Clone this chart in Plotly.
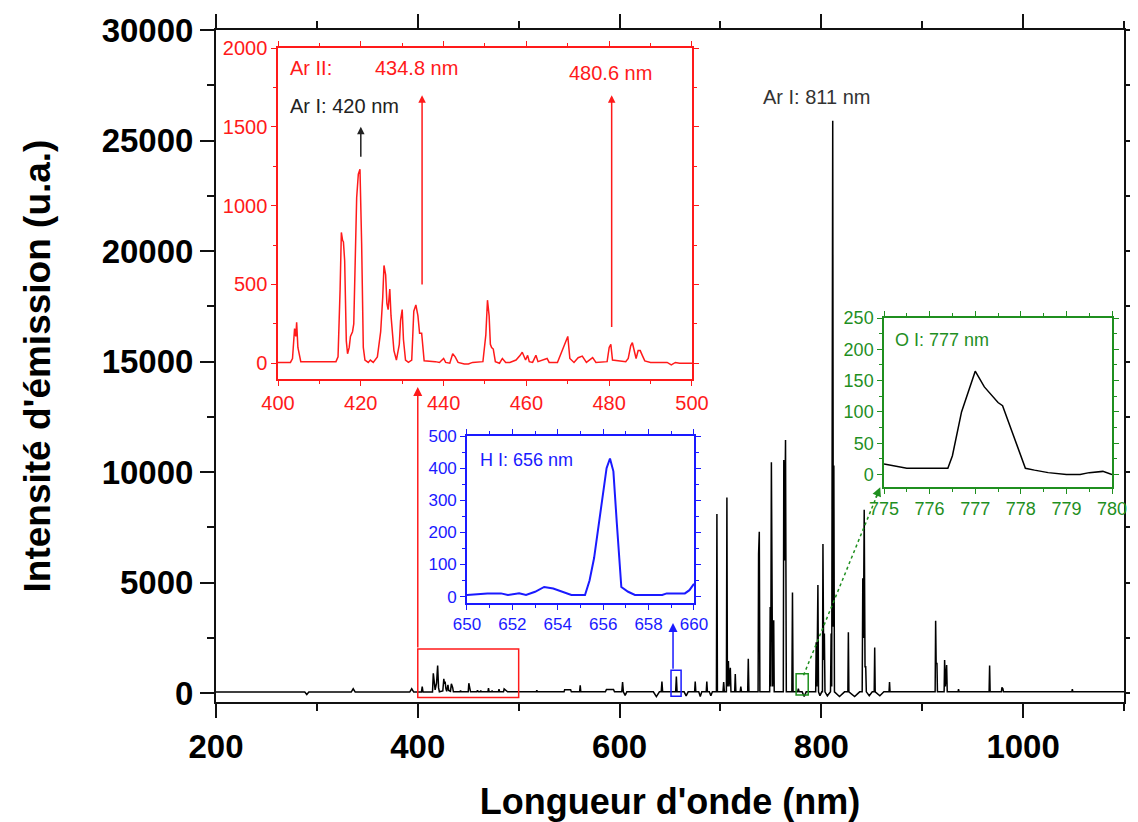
import plotly.graph_objects as go

# ---------------- Main spectrum (nm, intensity a.u.) ----------------
main_wl = [200, 288, 290, 292, 334, 336, 338, 392, 394, 396,
           403.6, 404.4, 405.2,
           414.6, 415.4, 416.4, 417.2, 418.6, 419.7, 420.6, 421.4,
           424.8, 425.8, 426.5, 427.1, 427.9, 428.7, 429.9, 430.7, 432.4, 433.3, 434.6, 435.3,
           441.8, 442.4, 443.0,
           450.0, 450.6, 451.3, 452.3,
           458.5, 459.2, 460.0, 462.0, 462.4, 463.0,
           469.5, 470.1, 470.7,
           473.0, 473.6, 474.3,
           479.9, 480.5, 481.1,
           485.0, 485.6, 487.5, 489.0,
           517.4, 518.0, 518.6,
           545.0, 545.6, 548.0, 551.5, 552.2,
           560.4, 561.0, 561.6,
           586.0, 587.0, 594.0, 595.0,
           602.2, 603.0, 603.8, 605.5, 607.2,
           633.5, 636.5, 639.5,
           641.3, 642.0, 642.7,
           655.6, 656.3, 657.0,
           664.0, 666.0, 668.0,
           674.4, 675.0, 675.6,
           678.5, 680.0, 681.5,
           685.9, 686.5, 687.1,
           689.0, 690.5, 692.0,
           696.0, 696.5, 697.0,
           702.5, 703.2, 703.9,
           705.9, 706.4, 706.9, 707.9, 708.5, 709.8, 710.4,
           714.1, 714.7, 715.3,
           719.5, 720.2, 720.9,
           727.0, 727.6, 728.2,
           737.3, 737.8, 738.5, 739.1,
           748.8, 749.3, 749.8, 750.5, 751.2, 751.7, 752.8, 753.3,
           762.3, 762.8, 763.5, 764.5, 765.3,
           770.8, 771.4, 772.0,
           776.5, 777.2, 778.0,
           781.0, 783.0, 785.0,
           794.4, 794.9, 795.6, 796.6, 797.2,
           798.6, 800.4, 801.1, 801.6, 802.3, 803.0, 803.6,
           806.0, 808.4, 809.1, 809.7, 810.3, 811.3, 811.9, 812.4, 813.0,
           818.0, 823.0,
           826.3, 826.8, 827.3,
           833.0, 838.0,
           840.5, 841.1, 841.7, 842.5, 843.3, 844.0, 844.6,
           847.5, 850.5,
           852.4, 852.9, 853.4,
           858.0, 862.0,
           867.1, 867.6, 868.1,
           912.8, 913.3, 913.8, 914.6, 915.1,
           921.7, 922.2, 922.9, 924.2, 924.8,
           935.5, 936.0, 936.5,
           966.3, 966.8, 967.3,
           978.5, 979.0, 980.0, 980.5,
           1048.3, 1048.8, 1049.3,
           1100]
main_int = [50, 50, -60, 50, 50, 200, 50, 50, 200, 50,
            50, 300, 50,
            50, 900, 250, 150, 450, 1250, 250, 60,
            100, 650, 420, 520, 200, 80, 380, 120, 80, 420, 250, 60,
            60, 120, 60,
            60, 450, 200, 60,
            60, 130, 60, 60, 120, 60,
            60, 230, 60,
            60, 100, 60,
            60, 180, 60,
            60, 190, 130, 60,
            60, 130, 60,
            60, 150, 150, 150, 60,
            60, 350, 60,
            60, 170, 170, 60,
            60, 500, 60, -100, 60,
            60, -160, 60,
            60, 520, 60,
            60, 750, 60,
            60, -120, 60,
            60, 520, 60,
            60, -150, 60,
            60, 520, 60,
            60, -120, 60,
            60, 8100, 60,
            60, 500, 60,
            60, 8850, 300, 1450, 300, 1150, 60,
            60, 860, 60,
            60, 300, 60,
            60, 1560, 60,
            60, 6300, 7300, 60,
            60, 3900, 300, 10450, 4100, 300, 3300, 60,
            60, 10550, 6000, 11450, 60,
            60, 4550, 60,
            60, 200, 60,
            60, -150, 60,
            60, 2300, 300, 4890, 60,
            -120, 60, 60, 6750, 1500, 2700, 60,
            -120, 60, 60, 2700, 300, 25900, 3000, 10300, 60,
            -150, 60,
            60, 2750, 60,
            -150, 60,
            60, 5200, 2500, 8300, 1200, 1200, 60,
            -120, 60,
            60, 2060, 60,
            -120, 60,
            60, 500, 60,
            60, 3270, 1340, 1340, 60,
            60, 1500, 300, 1270, 60,
            60, 180, 60,
            60, 1250, 60,
            60, 260, 200, 60,
            60, 180, 60,
            60]

# ---------------- Red inset: 400-500 nm ----------------
red_wl = [400, 403.0, 403.5, 404.0, 404.3, 404.5, 404.8, 405.5, 414.0, 414.5,
          415.0, 415.3, 415.6, 415.8, 416.1, 416.5, 416.8, 417.2, 417.5, 418.0, 418.3, 418.6,
          419.0, 419.4, 419.8, 420.2, 420.6, 421.0, 421.8, 422.3, 423.0, 424.0, 424.8,
          425.3, 425.6, 426.0, 426.3, 426.6, 427.0, 427.3, 427.6, 428.0, 428.6, 429.3,
          429.6, 430.0, 430.3, 430.8, 431.5, 432.3, 432.8, 433.3, 433.8, 434.2, 434.7,
          435.0, 435.3, 438.0, 439.0, 440.0, 440.5, 441.5, 442.2, 442.8, 443.5, 445.0,
          446.0, 447.0, 449.5, 450.2, 450.6, 451.0, 451.3, 451.6, 452.0, 452.5, 453.5,
          454.2, 455.0, 456.0, 457.5, 458.5, 459.0, 459.8, 460.3, 460.7, 461.5, 462.3,
          462.8, 465.0, 465.5, 467.5, 469.5, 470.0, 470.5, 471.5, 472.5, 473.5, 474.5,
          476.0, 476.8, 479.5, 480.0, 480.4, 480.8, 484.0, 484.6, 485.2, 485.6, 486.1,
          486.5, 487.0, 487.5, 488.0, 488.6, 490.0, 494.0, 495.0, 496.0, 497.0, 500]
red_int = [5, 5, 30, 220, 170, 260, 100, 10, 10, 40,
           470, 830, 780, 770, 650, 140, 60, 100, 170, 200, 250, 580,
           1050, 1200, 1230, 760, 100, 20, 5, 20, 5, 40, 200,
           420, 620, 560, 380, 340, 470, 300, 200, 80, 20, 120,
           270, 340, 150, 20, 5, 20, 330, 370, 300, 190, 190,
           100, 15, 10, 5, 30, 5, 0, 60, 40, 5, -5,
           -5, 5, 10, 180, 400, 300, 120, 100, 90, 10, 0,
           30, 5, 5, 20, 50, 70, 20, 50, 10, 5, 50,
           10, 30, 5, 5, 130, 170, 30, 5, 35, 45, 5,
           35, 5, 10, 100, 120, 20, 10, 30, 110, 130, 70,
           30, 80, 80, 50, 15, 5, 5, -10, 5, 0, 0]

# ---------------- Blue inset: 650-660 nm ----------------
blue_wl = [650.0, 650.9, 651.5, 651.8, 652.3, 652.6, 653.0, 653.4, 653.8, 654.2, 654.6,
           655.2, 655.4, 655.6, 655.8, 656.0, 656.15, 656.3, 656.45, 656.6, 656.8, 657.1,
           657.4, 658.2, 658.6, 658.8, 659.6, 659.8, 660.0]
blue_int = [5, 10, 10, 5, 10, 5, 15, 30, 25, 15, 5,
            5, 50, 120, 220, 310, 400, 430, 390, 230, 30, 15,
            5, 5, 5, 10, 10, 20, 40]

# ---------------- Green inset: 775-780 nm ----------------
green_wl = [775.0, 775.3, 775.5, 776.0, 776.4, 776.5, 776.7, 777.0, 777.2, 777.5, 777.6,
            777.8, 778.0, 778.1, 778.3, 778.6, 779.0, 779.3, 779.5, 779.8, 780.0]
green_int = [17, 13, 10, 10, 10, 30, 100, 165, 140, 115, 110,
             70, 30, 10, 7, 3, 0, 0, 3, 5, 0]

FONT = "Liberation Sans, Arial, sans-serif"
RED = "#ff1a1a"
BLUE = "#1a1aff"
GREEN = "#1f8f1f"

fig = go.Figure()
fig.add_trace(go.Scatter(x=main_wl, y=main_int, mode="lines",
                         line=dict(color="black", width=1.5), xaxis="x", yaxis="y",
                         showlegend=False))
fig.add_trace(go.Scatter(x=red_wl, y=red_int, mode="lines",
                         line=dict(color=RED, width=1.5), xaxis="x2", yaxis="y2",
                         showlegend=False))
fig.add_trace(go.Scatter(x=blue_wl, y=blue_int, mode="lines",
                         line=dict(color=BLUE, width=2), xaxis="x3", yaxis="y3",
                         showlegend=False))
fig.add_trace(go.Scatter(x=green_wl, y=green_int, mode="lines",
                         line=dict(color="black", width=1.5), xaxis="x4", yaxis="y4",
                         showlegend=False))


def inset_axis(color, size, rng, dtick, minor_dtick, domain, anchor):
    return dict(domain=domain, anchor=anchor, range=rng, dtick=dtick, tick0=rng[0] if rng[0] >= 0 else 0,
                showline=True, mirror="ticks", linecolor=color, linewidth=1.5,
                ticks="outside", ticklen=5, tickwidth=1.2, tickcolor=color,
                minor=dict(dtick=minor_dtick, ticks="outside", ticklen=3, tickcolor=color),
                showgrid=False, zeroline=False, automargin=False, tickformat="d",
                tickfont=dict(family=FONT, size=size, color=color))


main_tick_font = dict(family=FONT, size=33, color="black", weight="bold")

# page body has an 8px margin: figure is sized/offset to keep the plot area in place
fig.update_layout(
    width=1130, height=814,
    margin=dict(l=208, r=14, t=22, b=120),
    paper_bgcolor="white", plot_bgcolor="white",
    xaxis=dict(domain=[0, 1], anchor="y", range=[200, 1100], dtick=200, tick0=200,
               showline=True, mirror="ticks", linecolor="#111", linewidth=2,
               ticks="outside", ticklen=14, tickwidth=2, tickcolor="#111",
               minor=dict(dtick=100, ticks="outside", ticklen=7, tickwidth=2, tickcolor="#111"),
               showgrid=False, zeroline=False, tickfont=main_tick_font, automargin=False,
               tickformat="d",
               title=dict(text="Longueur d'onde (nm)", standoff=26,
                          font=dict(family=FONT, size=36, color="black", weight="bold"))),
    yaxis=dict(domain=[0, 1], anchor="x", range=[-400, 30000], dtick=5000, tick0=0,
               showline=True, mirror="ticks", linecolor="#111", linewidth=2,
               ticks="outside", ticklen=14, tickwidth=2, tickcolor="#111",
               minor=dict(dtick=2500, ticks="outside", ticklen=7, tickwidth=2, tickcolor="#111"),
               showgrid=False, zeroline=False, tickfont=main_tick_font, automargin=False,
               tickformat="d",
               title=dict(text="Intensité d'émission (u.a.)", standoff=40,
                          font=dict(family=FONT, size=37, color="black", weight="bold"))),
    xaxis2=inset_axis(RED, 20, [400, 500], 20, 10, [0.0683, 0.5242], "y2"),
    yaxis2=inset_axis(RED, 20, [-100, 2000], 500, 250, [0.4807, 0.9732], "x2"),
    xaxis3=inset_axis(BLUE, 17, [650, 660], 2, 1, [0.2764, 0.5264], "y3"),
    yaxis3=inset_axis(BLUE, 17, [-20, 500], 100, 50, [0.1473, 0.3958], "x3"),
    xaxis4=inset_axis(GREEN, 18, [775, 780], 1, 0.5, [0.7357, 0.9868], "y4"),
    yaxis4=inset_axis(GREEN, 18, [-20, 250], 50, 25, [0.3199, 0.5714], "x4"),
)

# zoom boxes on the main spectrum
fig.add_shape(type="rect", xref="x", yref="y", x0=400, x1=500, y0=-200, y1=2000,
              line=dict(color=RED, width=1.5))
fig.add_shape(type="rect", xref="x", yref="y", x0=651, x1=661, y0=-140, y1=1040,
              line=dict(color=BLUE, width=1.5))
fig.add_shape(type="rect", xref="x", yref="y", x0=775, x1=787, y0=-80, y1=880,
              line=dict(color=GREEN, width=1.5))
fig.add_shape(type="line", xref="x", yref="y", x0=782.4, y0=814, x1=857.5, y1=9200,
              line=dict(color=GREEN, width=1.5, dash="dot"))

ann = []
# connecting arrows
ann.append(dict(x=400, y=13850, ax=400, ay=2000, xref="x", yref="y", axref="x", ayref="y",
                showarrow=True, arrowhead=2, arrowsize=1.2, arrowwidth=1.5, arrowcolor=RED, text=""))
ann.append(dict(x=653, y=3170, ax=653, ay=1040, xref="x", yref="y", axref="x", ayref="y",
                showarrow=True, arrowhead=2, arrowsize=1.2, arrowwidth=1.5, arrowcolor=BLUE, text=""))
ann.append(dict(x=858.4, y=9320, ax=-5, ay=12, xref="x", yref="y",
                showarrow=True, arrowhead=2, arrowsize=1.2, arrowwidth=1.5, arrowcolor=GREEN, text=""))
# main label
ann.append(dict(x=795, y=26970, xref="x", yref="y", text="Ar I: 811 nm", showarrow=False,
                font=dict(family=FONT, size=20, color="#333")))
# red inset labels & arrows
ann.append(dict(x=402.4, y=1873, xref="x2", yref="y2", text="Ar II:", showarrow=False,
                xanchor="left", font=dict(family=FONT, size=20, color=RED)))
ann.append(dict(x=423, y=1873, xref="x2", yref="y2", text="434.8 nm", showarrow=False,
                xanchor="left", font=dict(family=FONT, size=20, color=RED)))
ann.append(dict(x=469.8, y=1840, xref="x2", yref="y2", text="480.6 nm", showarrow=False,
                xanchor="left", font=dict(family=FONT, size=20, color=RED)))
ann.append(dict(x=402.4, y=1632, xref="x2", yref="y2", text="Ar I: 420 nm", showarrow=False,
                xanchor="left", font=dict(family=FONT, size=20, color="#222")))
ann.append(dict(x=420, y=1500, ax=420, ay=1300, xref="x2", yref="y2", axref="x2", ayref="y2",
                showarrow=True, arrowhead=2, arrowsize=1, arrowwidth=1.5, arrowcolor="#222", text=""))
ann.append(dict(x=434.8, y=1700, ax=434.8, ay=490, xref="x2", yref="y2", axref="x2", ayref="y2",
                showarrow=True, arrowhead=2, arrowsize=1, arrowwidth=1.5, arrowcolor=RED, text=""))
ann.append(dict(x=480.6, y=1700, ax=480.6, ay=220, xref="x2", yref="y2", axref="x2", ayref="y2",
                showarrow=True, arrowhead=2, arrowsize=1, arrowwidth=1.5, arrowcolor=RED, text=""))
# blue and green inset labels
ann.append(dict(x=650.5, y=424, xref="x3", yref="y3", text="H I: 656 nm", showarrow=False,
                xanchor="left", font=dict(family=FONT, size=18, color=BLUE)))
ann.append(dict(x=775.2, y=215, xref="x4", yref="y4", text="O I: 777 nm", showarrow=False,
                xanchor="left", font=dict(family=FONT, size=18, color=GREEN)))
fig.update_layout(annotations=ann)

fig.write_html("out.html")
